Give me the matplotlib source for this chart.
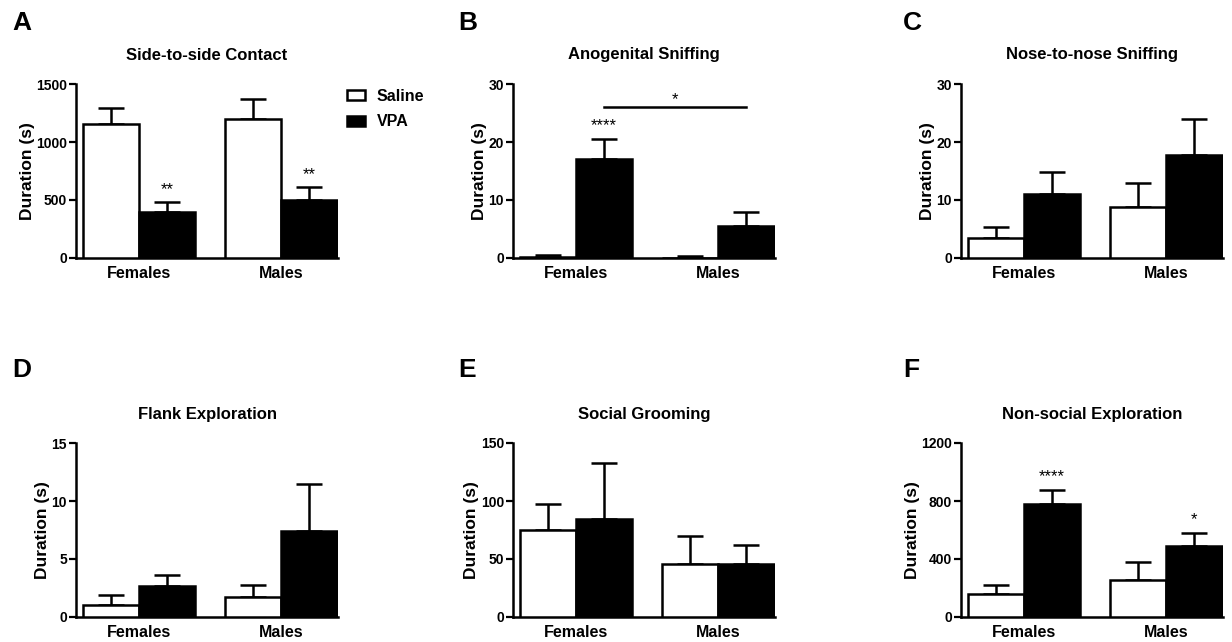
import matplotlib
matplotlib.use("Agg")
import matplotlib.pyplot as plt
from matplotlib.patches import Patch
import numpy as np

plt.rcParams['font.family'] = ['Liberation Sans', 'DejaVu Sans']
plt.rcParams['font.weight'] = 'bold'

groups = ["Females", "Males"]
series = ["Saline", "VPA"]
panel_letters = ["A", "B", "C", "D", "E", "F"]
titles = ["Side-to-side Contact", "Anogenital Sniffing", "Nose-to-nose Sniffing",
          "Flank Exploration", "Social Grooming", "Non-social Exploration"]
ymax = [1500, 30, 30, 15, 150, 1200]
yticks = [[0, 500, 1000, 1500], [0, 10, 20, 30], [0, 10, 20, 30],
          [0, 5, 10, 15], [0, 50, 100, 150], [0, 400, 800, 1200]]

# means [Females, Males] and upper error-bar ends (mean + SEM)
saline_mean = [[1157, 1197], [0.15, 0.05], [3.5, 8.8], [1.04, 1.70], [75, 45.3], [157, 256]]
saline_top = [[1292, 1370], [0.5, 0.3], [5.4, 12.9], [1.93, 2.74], [97.2, 70.1], [224, 381]]
vpa_mean = [[398, 499], [17.0, 5.5], [11.0, 17.7], [2.68, 7.38], [84.5, 45.3], [782, 487]]
vpa_top = [[479, 609], [20.5, 7.9], [14.9, 23.9], [3.58, 11.5], [133, 62.0], [875, 582]]

# significance stars over VPA bars [Females, Males]
vpa_stars = [["**", "**"], ["****", ""], ["", ""], ["", ""], ["", ""], ["****", "*"]]
# panel B: Female VPA vs Male VPA comparison
bracket_y = 26.1
bracket_text = "*"

W, H = 1232, 642
fig = plt.figure(figsize=(W / 100, H / 100), dpi=100)

col_x = [76, 513, 961]
row_bottom = [258, 617]
ax_w, ax_h = 262, 174
letter_pos = [(12, 23), (458, 23), (903, 23), (12, 370), (458, 370), (903, 370)]

bw = 1.0
gap = 2.536
centers = np.array([0.0, gap])

axes = []
for i in range(6):
    r, c = divmod(i, 3)
    left = col_x[c] / W
    bottom = 1 - row_bottom[r] / H
    ax = fig.add_axes([left, bottom, ax_w / W, ax_h / H])
    axes.append(ax)
    xs_s = centers - bw / 2
    xs_v = centers + bw / 2
    sm = np.array(saline_mean[i]); st = np.array(saline_top[i])
    vm = np.array(vpa_mean[i]); vt = np.array(vpa_top[i])
    ax.bar(xs_s, sm, width=bw, color='white', edgecolor='black', linewidth=1.8, zorder=3)
    ax.bar(xs_v, vm, width=bw, color='black', edgecolor='black', linewidth=1.8, zorder=3)
    ax.errorbar(xs_s, sm, yerr=[np.zeros(2), st - sm], fmt='none', ecolor='black',
                elinewidth=1.8, capsize=9.5, capthick=1.8, zorder=2)
    ax.errorbar(xs_v, vm, yerr=[np.zeros(2), vt - vm], fmt='none', ecolor='black',
                elinewidth=1.8, capsize=9.5, capthick=1.8, zorder=2)
    for j in range(2):
        if vpa_stars[i][j]:
            ax.text(xs_v[j], vt[j] + 0.05 * ymax[i], vpa_stars[i][j], ha='center',
                    va='baseline', fontsize=12, fontweight='normal')
    ax.set_xlim(-1.125, 3.55)
    ax.set_ylim(0, ymax[i])
    ax.set_yticks(yticks[i])
    ax.set_yticklabels([str(t) for t in yticks[i]], fontsize=10, fontweight='bold')
    ax.set_xticks(centers)
    ax.set_xticklabels(groups, fontsize=11.5, fontweight='bold')
    ax.tick_params(axis='x', length=0, pad=6)
    ax.tick_params(axis='y', length=5, width=1.6, pad=1.5)
    for s in ['top', 'right']:
        ax.spines[s].set_visible(False)
    for s in ['left', 'bottom']:
        ax.spines[s].set_linewidth(1.8)
    ax.set_ylabel("Duration (s)", fontsize=12.5, fontweight='bold', labelpad=1)
    ax.text(0.5, 1 + 29 / ax_h, titles[i], transform=ax.transAxes, ha='center',
            va='center', fontsize=12, fontweight='bold')
    lx, ly = letter_pos[i]
    fig.text(lx / W, 1 - ly / H, panel_letters[i], ha='left', va='center',
             fontsize=19, fontweight='bold')

# bracket in panel B
axB = axes[1]
xb = centers + bw / 2
axB.plot([xb[0], xb[1]], [bracket_y, bracket_y], color='black', lw=1.8, clip_on=False)
axB.text((xb[0] + xb[1]) / 2, bracket_y + 0.4, bracket_text, ha='center', va='baseline',
         fontsize=12, fontweight='normal')

handles = [Patch(facecolor='white', edgecolor='black', linewidth=1.8),
           Patch(facecolor='black', edgecolor='black', linewidth=1.8)]
fig.legend(handles, series, loc='upper left', bbox_to_anchor=(347 / W, 1 - 89 / H),
           frameon=False, prop={'weight': 'bold', 'size': 11.5},
           handlelength=1.15, handleheight=0.6, handletextpad=0.7, labelspacing=0.65,
           borderpad=0, borderaxespad=0)

fig.savefig("out.png", dpi=100)
